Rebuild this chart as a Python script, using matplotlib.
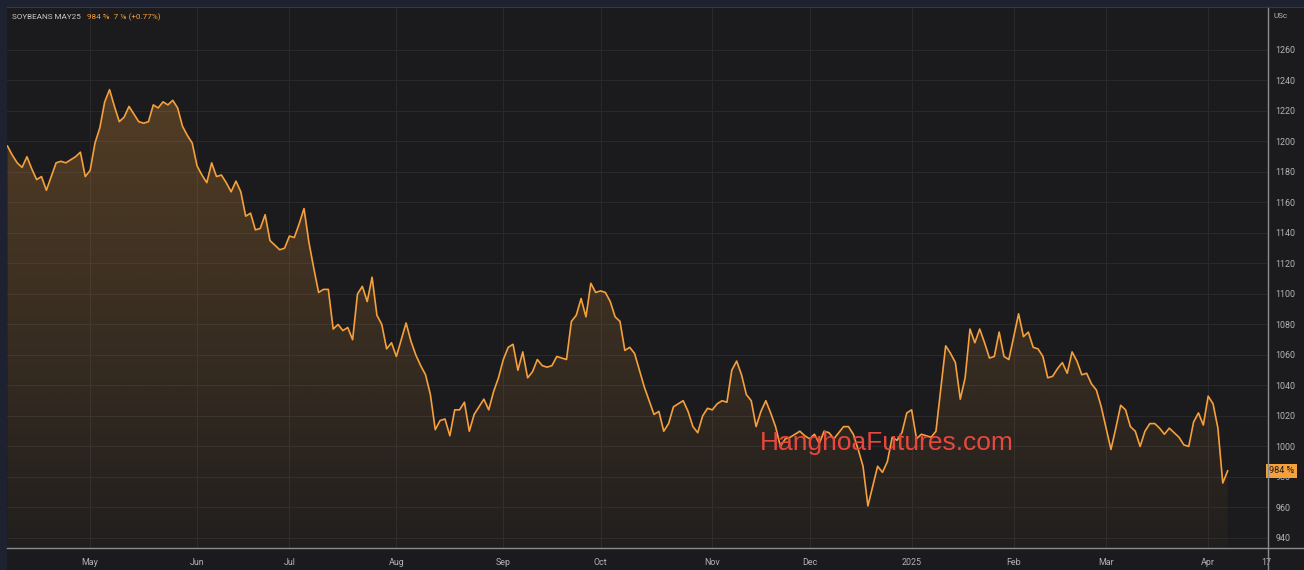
import numpy as np
import pandas as pd
import matplotlib
matplotlib.use('Agg')
import matplotlib.pyplot as plt
from matplotlib.patches import Rectangle
from matplotlib.lines import Line2D
import matplotlib.transforms as mtransforms

plt.rcParams['font.family'] = ['Roboto', 'DejaVu Sans']

# daily closes of SOYBEANS MAY25 (US cents)
prices = [
    1197, 1191, 1186, 1183, 1190, 1182, 1175, 1177, 1168, 1177,
    1186, 1187, 1186, 1188, 1190, 1193, 1177, 1181, 1199, 1209,
    1226, 1234, 1223, 1213, 1216, 1223, 1218, 1213, 1212, 1213,
    1224, 1222, 1226, 1224, 1227, 1222, 1210, 1204, 1199, 1184,
    1178, 1173, 1186, 1177, 1178, 1173, 1167, 1174, 1167, 1151,
    1153, 1142, 1143, 1152, 1135, 1132, 1129, 1130, 1138, 1137,
    1146, 1156, 1134, 1117, 1101, 1103, 1103, 1077, 1080, 1076,
    1078, 1070, 1100, 1105, 1095, 1111, 1086, 1080, 1064, 1068,
    1059, 1070, 1081, 1069, 1060, 1053, 1047, 1034, 1011, 1017,
    1018, 1007, 1024, 1024, 1029, 1010, 1021, 1026, 1031, 1024,
    1036, 1045, 1057, 1065, 1067, 1050, 1062, 1045, 1049, 1057,
    1053, 1052, 1053, 1059, 1058, 1057, 1082, 1086, 1097, 1085,
    1107, 1101, 1102, 1101, 1095, 1085, 1082, 1063, 1065, 1061,
    1050, 1039, 1030, 1021, 1023, 1010, 1015, 1026, 1028, 1030,
    1023, 1013, 1009, 1020, 1025, 1024, 1028, 1030, 1029, 1050,
    1056, 1047, 1034, 1030, 1013, 1023, 1030, 1022, 1013, 1000,
    1005, 1006, 1008, 1010, 1007, 1005, 1008, 1002, 1010, 1009,
    1005, 1009, 1013, 1013, 1008, 998, 987, 961, 974, 987,
    983, 990, 1006, 1004, 1009, 1022, 1024, 1005, 1008, 1007,
    1006, 1010, 1038, 1066, 1061, 1055, 1031, 1045, 1077, 1068,
    1077, 1068, 1058, 1059, 1075, 1059, 1057, 1072, 1087, 1072,
    1075, 1065, 1064, 1059, 1045, 1046, 1051, 1055, 1048, 1062,
    1056, 1047, 1048, 1041, 1037, 1026, 1012, 998, 1012, 1027,
    1024, 1013, 1010, 1000, 1010, 1015, 1015, 1012, 1008, 1012,
    1009, 1006, 1001, 1000, 1016, 1022, 1014, 1033, 1028, 1012,
    976, 984,
]

# trading calendar (CBOT holidays), chart runs a bit past the last bar
start_date = '2024-04-08'
axis_end = '2025-04-17'
holidays = ['2024-05-27', '2024-06-19', '2024-07-04', '2024-09-02', '2024-11-28',
            '2024-12-25', '2025-01-01', '2025-01-20', '2025-02-17']
month_labels = ['May', 'Jun', 'Jul', 'Aug', 'Sep', 'Oct', 'Nov', 'Dec',
                '2025', 'Feb', 'Mar', 'Apr']
end_label = '17'
y_ticks = list(range(940, 1261, 20))

symbol = 'SOYBEANS MAY25'
quote = '984 \u215d  7 \u215b (+0.77%)'
last_label = '984 \u215d'
watermark = 'HanghoaFutures.com'

bg = '#1b1b1d'
grid_c = '#29292c'
line_c = '#f5a03c'
text_c = '#b4b4b8'

dates = pd.bdate_range(start_date, axis_end, freq='C', holidays=holidays)
x = np.arange(len(prices))

# first trading day of each month (skip the partial first month)
s = pd.Series(np.arange(len(dates)), index=dates)
month_pos = s.groupby([dates.year, dates.month]).first().values[1:]
end_pos = len(dates) - 1

fig = plt.figure(figsize=(13.04, 5.70), dpi=100, facecolor=bg)
ax = fig.add_axes([7 / 1304, 22 / 570, 1260 / 1304, 541 / 570])
ax.set_facecolor(bg)

ylo, yhi = 933.4, 1288.2
xlo, xhi = -0.1, end_pos + 0.1

# gradient area under the line
grad = np.zeros((256, 1, 4))
grad[:, 0, :3] = matplotlib.colors.to_rgb(line_c)
grad[:, 0, 3] = np.linspace(0.03, 0.30, 256)
im = ax.imshow(grad, aspect='auto', extent=[xlo, xhi, ylo, yhi], origin='lower', zorder=1)
poly = ax.fill_between(x, prices, ylo, color='none', lw=0)
im.set_clip_path(poly.get_paths()[0], transform=ax.transData)

ax.plot(x, prices, color=line_c, lw=1.2, zorder=3, solid_joinstyle='round')

ax.set_xlim(xlo, xhi)
ax.set_ylim(ylo, yhi)

ax.set_yticks(y_ticks)
ax.yaxis.tick_right()
ax.set_xticks(list(month_pos) + [end_pos])
ax.set_xticklabels(month_labels + [end_label])
ax.tick_params(axis='both', length=0, labelsize=6.4, colors=text_c)
ax.tick_params(axis='y', pad=6)
ax.tick_params(axis='x', pad=7)

for v in y_ticks:
    ax.axhline(v, color=grid_c, lw=0.8, zorder=0)
for p in month_pos:
    ax.axvline(p, color=grid_c, lw=0.8, zorder=0)

for sp in ax.spines.values():
    sp.set_visible(False)

# axis separators
fig.add_artist(Line2D([1267.5 / 1304] * 2, [0, 563 / 570], color='#8c8c90', lw=1.0))
fig.add_artist(Line2D([7 / 1304, 1], [22 / 570] * 2, color='#8c8c90', lw=1.0))

# dark frame strips at top and left
fig.add_artist(Rectangle((0, 563 / 570), 1, 7 / 570, transform=fig.transFigure,
                         color='#1d2130', lw=0))
fig.add_artist(Rectangle((0, 0), 7 / 1304, 1, transform=fig.transFigure,
                         color='#1d2130', lw=0))
fig.add_artist(Line2D([7 / 1304, 1], [563 / 570] * 2, color='#33384a', lw=0.8))

# header
fig.text(12 / 1304, 553 / 570, symbol, color='#c8c8cc', fontsize=5.9, va='center')
fig.text(87 / 1304, 553 / 570, quote, color=line_c, fontsize=5.9, va='center')
fig.text(1273 / 1304, 554 / 570, 'USc', color=text_c, fontsize=5.9, va='center')

# last price label on the axis
trans = mtransforms.blended_transform_factory(ax.transAxes, ax.transData)
ax.text(1.0015, prices[-1], last_label, transform=trans, ha='left', va='center',
        fontsize=6.6, color='#1a1a1a', clip_on=False, zorder=5,
        bbox=dict(boxstyle='square,pad=0.3', fc=line_c, ec='none'))

fig.text(887 / 1304, 127 / 570, watermark, color='#e8473d', fontsize=19,
         family=['Liberation Sans', 'DejaVu Sans'], ha='center', va='center')

fig.savefig('out.png', dpi=100, facecolor=bg)
plt.close(fig)
